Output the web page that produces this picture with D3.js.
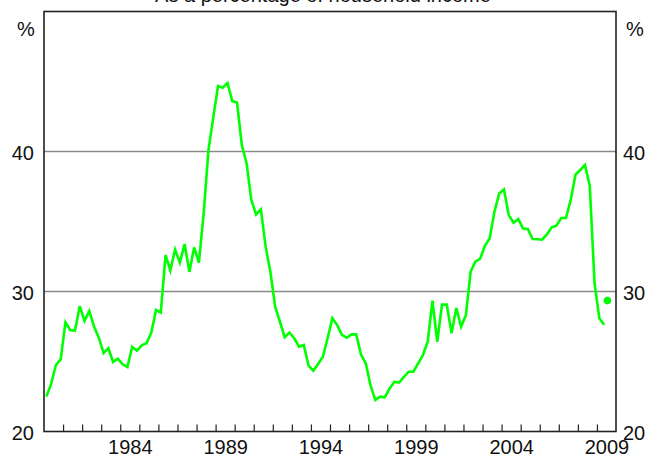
<!DOCTYPE html>
<html>
<head>
<meta charset="utf-8">
<script src="https://cdn.jsdelivr.net/npm/d3@7"></script>
<style>
  body { margin: 0; background: #fff; }
  text { font-family: "Liberation Sans", Arial, sans-serif; }
</style>
</head>
<body>
<script>
// Quarterly series, starting 1980 Q1 (per cent of household income)
const startYear = 1980;
const burden = [
  22.5, 23.4, 24.75, 25.15, 27.8, 27.25, 27.2, 28.96,
  27.9, 28.6, 27.5, 26.7, 25.6, 25.95, 24.97, 25.2,
  24.8, 24.6, 26.05, 25.77, 26.15, 26.3, 27.05, 28.68,
  28.5, 32.6, 31.5, 33.0, 32.06, 33.39, 31.4, 33.15,
  32.06, 35.6, 40.1, 42.4, 44.68, 44.56, 44.9, 43.6,
  43.5, 40.46, 39.15, 36.54, 35.5, 35.86, 33.2, 31.4,
  28.9, 27.84, 26.73, 27.06, 26.66, 26.06, 26.18, 24.7,
  24.34, 24.82, 25.34, 26.66, 28.09, 27.6, 26.9, 26.7,
  26.94, 26.94, 25.5, 24.87, 23.3, 22.25, 22.49, 22.44,
  23.08, 23.55, 23.5, 23.9, 24.27, 24.27, 24.87, 25.46,
  26.41, 29.34, 26.41, 29.06, 29.06, 27.01, 28.82, 27.49,
  28.3, 31.41, 32.13, 32.34, 33.27, 33.8, 35.7, 37.0,
  37.29, 35.46, 34.91, 35.18, 34.49, 34.46, 33.75, 33.73,
  33.7, 34.08, 34.58, 34.7, 35.25, 35.25, 36.54, 38.34,
  38.68, 39.04, 37.54, 30.59, 28.09, 27.63
];
// Single marked point after the series
const dotYear = 2009.55;
const dotValue = 29.35;

const yearLabels = [1984, 1989, 1994, 1999, 2004, 2009];
const yTicks = [20, 30, 40];
const gridValues = [30, 40];

const title = "As a percentage of household income";

const width = 646, height = 463;
const margin = { top: 11.5, right: 30, bottom: 31.5, left: 44 };

const svg = d3.select("body").append("svg")
  .attr("width", width)
  .attr("height", height);

const x = d3.scaleLinear()
  .domain([1980, 2010])
  .range([margin.left, width - margin.right]);

const y = d3.scaleLinear()
  .domain([20, 50])
  .range([height - margin.bottom, margin.top]);

const data = burden.map((v, i) => ({ t: startYear + (i + 0.5) / 4, v: v }));

// gridlines
svg.append("g")
  .selectAll("line")
  .data(gridValues)
  .enter().append("line")
  .attr("x1", x.range()[0])
  .attr("x2", x.range()[1])
  .attr("y1", d => y(d))
  .attr("y2", d => y(d))
  .attr("stroke", "#8a8a8a")
  .attr("stroke-width", 1.5);

// line
const line = d3.line()
  .x(d => x(d.t))
  .y(d => y(d.v));

svg.append("path")
  .datum(data)
  .attr("d", line)
  .attr("fill", "none")
  .attr("stroke", "#00ff00")
  .attr("stroke-width", 2.6)
  .attr("stroke-linejoin", "miter");

svg.append("circle")
  .attr("cx", x(dotYear))
  .attr("cy", y(dotValue))
  .attr("r", 3.8)
  .attr("fill", "#00ff00");

// year ticks on the bottom axis, pointing inwards
const years = d3.range(1981, 2010);
svg.append("g")
  .attr("transform", `translate(0,${y(20)})`)
  .call(d3.axisBottom(x).tickValues(years).tickSize(-7).tickFormat(""))
  .call(g => g.select(".domain").remove())
  .call(g => g.selectAll("line").attr("stroke", "#222").attr("stroke-width", 1.2));

// year labels, centred in each year
svg.append("g")
  .attr("transform", `translate(0,${y(20)})`)
  .call(d3.axisBottom(x).tickValues(yearLabels.map(d => d + 0.5)).tickSize(0).tickPadding(8)
    .tickFormat(d => Math.floor(d)))
  .call(g => g.select(".domain").remove())
  .call(g => g.selectAll("text")
    .attr("font-size", 20)
    .attr("font-family", "Liberation Sans, Arial, sans-serif")
    .attr("fill", "#111"));

// left and right value axes
svg.append("g")
  .attr("transform", `translate(${x.range()[0]},0)`)
  .call(d3.axisLeft(y).tickValues(yTicks).tickSize(0).tickPadding(10))
  .call(g => g.select(".domain").remove())
  .call(g => g.selectAll("text")
    .attr("font-size", 20)
    .attr("font-family", "Liberation Sans, Arial, sans-serif")
    .attr("dy", "0.42em")
    .attr("fill", "#111"));

svg.append("g")
  .attr("transform", `translate(${x.range()[1]},0)`)
  .call(d3.axisRight(y).tickValues(yTicks).tickSize(0).tickPadding(7))
  .call(g => g.select(".domain").remove())
  .call(g => g.selectAll("text")
    .attr("font-size", 20)
    .attr("font-family", "Liberation Sans, Arial, sans-serif")
    .attr("dy", "0.42em")
    .attr("fill", "#111"));

// frame
svg.append("rect")
  .attr("x", x.range()[0])
  .attr("y", y(50))
  .attr("width", x.range()[1] - x.range()[0])
  .attr("height", y(20) - y(50))
  .attr("fill", "none")
  .attr("stroke", "#222")
  .attr("stroke-width", 1.6);

// units
svg.append("text")
  .attr("x", 26)
  .attr("y", 36)
  .attr("text-anchor", "middle")
  .attr("font-size", 20)
  .attr("fill", "#111")
  .text("%");

svg.append("text")
  .attr("x", 635)
  .attr("y", 36)
  .attr("text-anchor", "middle")
  .attr("font-size", 20)
  .attr("fill", "#111")
  .text("%");

// title (clipped at top edge as in source)
svg.append("text")
  .attr("x", 323)
  .attr("y", 2)
  .attr("text-anchor", "middle")
  .attr("font-size", 20)
  .attr("fill", "#111")
  .text(title);
</script>
</body>
</html>
